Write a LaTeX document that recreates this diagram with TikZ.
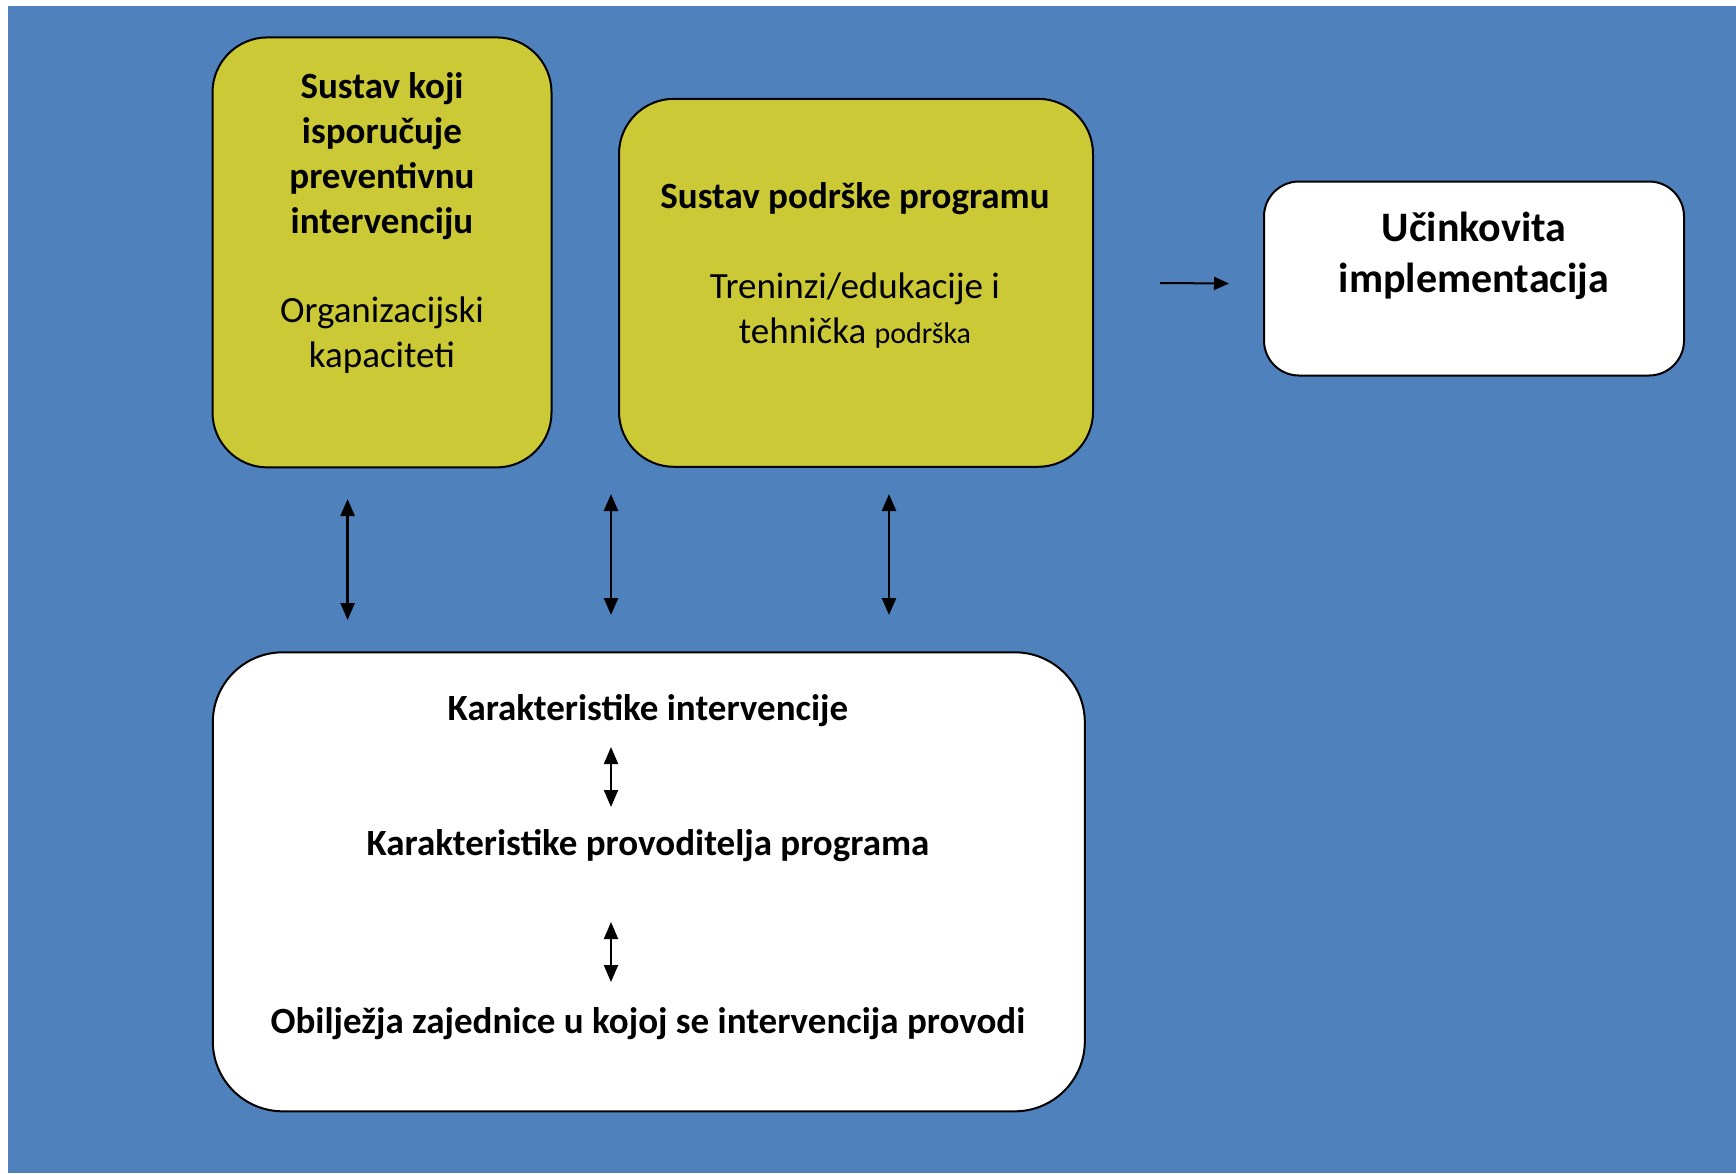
\documentclass[tikz,border=0pt]{standalone}
\usepackage{fontspec}
\setmainfont{Carlito}
\usetikzlibrary{arrows.meta}
\definecolor{bgblue}{RGB}{79,129,189}
\definecolor{olive}{RGB}{203,201,54}
\tikzset{
  boxbase/.style={draw=black, line width=2pt, inner sep=0pt},
  ybox/.style={boxbase, fill=olive, rounded corners=55pt},
  wbox/.style={boxbase, fill=white},
  btxt/.style={align=center, font=\fontsize{37}{45}\selectfont\bfseries, inner sep=0pt},
  rtxt/.style={align=center, font=\fontsize{37}{45}\selectfont, inner sep=0pt},
  dbl/.style={line width=2.5pt, {Triangle[width=14pt,length=17pt]}-{Triangle[width=14pt,length=17pt]}},
  sgl/.style={line width=2pt, -{Triangle[width=13pt,length=15pt]}}
}
\begin{document}
\begin{tikzpicture}[x=1pt,y=-1pt]
\useasboundingbox (0,0) rectangle (1736,1173);
\fill[white] (0,0) rectangle (1736,1173);
\fill[bgblue] (8,6) rectangle (1736,1173);
% boxes
\node[ybox, minimum width=339pt, minimum height=430pt] (b1) at (382,252.4) {};
\node[ybox, minimum width=474pt, minimum height=368pt] (b2) at (856,282.8) {};
\node[wbox, rounded corners=35pt, minimum width=420pt, minimum height=194pt] (b3) at (1474,278.5) {};
\node[wbox, rounded corners=70pt, minimum width=872pt, minimum height=459pt] (b4) at (648.8,881.8) {};
% texts
\node[btxt] (t1a) at (382,156) {Sustav koji\\isporučuje\\preventivnu\\intervenciju};
\node[rtxt] (t1b) at (382,335) {Organizacijski\\kapaciteti};
\node[btxt] (t2a) at (855,198.5) {Sustav podrške programu};
\node[rtxt] (t2b) at (855,310.5) {Treninzi/edukacije i\\tehnička {\fontsize{30}{45}\selectfont podrška}};
\node[btxt, font=\fontsize{42}{51}\selectfont\bfseries] (t3) at (1474,256) {Učinkovita\\implementacija};
\node[btxt] (k1) at (648,710.5) {Karakteristike intervencije};
\node[btxt] (k2) at (648,845.5) {Karakteristike provoditelja programa};
\node[btxt] (k3) at (648,1024) {Obilježja zajednice u kojoj se intervencija provodi};
% arrow end points
\coordinate (a1t) at (347.6,499);
\coordinate (a1b) at (347.6,620);
\coordinate (a2t) at (611,494);
\coordinate (a2b) at (611,615);
\coordinate (a3t) at (889,494);
\coordinate (a3b) at (889,615);
\coordinate (i1t) at (611,747);
\coordinate (i1b) at (611,807);
\coordinate (i2t) at (611,922);
\coordinate (i2b) at (611,982);
\coordinate (hs) at (1160,283);
\coordinate (he) at (1229,283.5);
\draw[dbl] (a1t) -- (a1b);
\draw[dbl] (a2t) -- (a2b);
\draw[dbl] (a3t) -- (a3b);
\draw[dbl, line width=2pt] (i1t) -- (i1b);
\draw[dbl, line width=2pt] (i2t) -- (i2b);
\draw[sgl] (hs) -- (he);
\end{tikzpicture}
\end{document}
